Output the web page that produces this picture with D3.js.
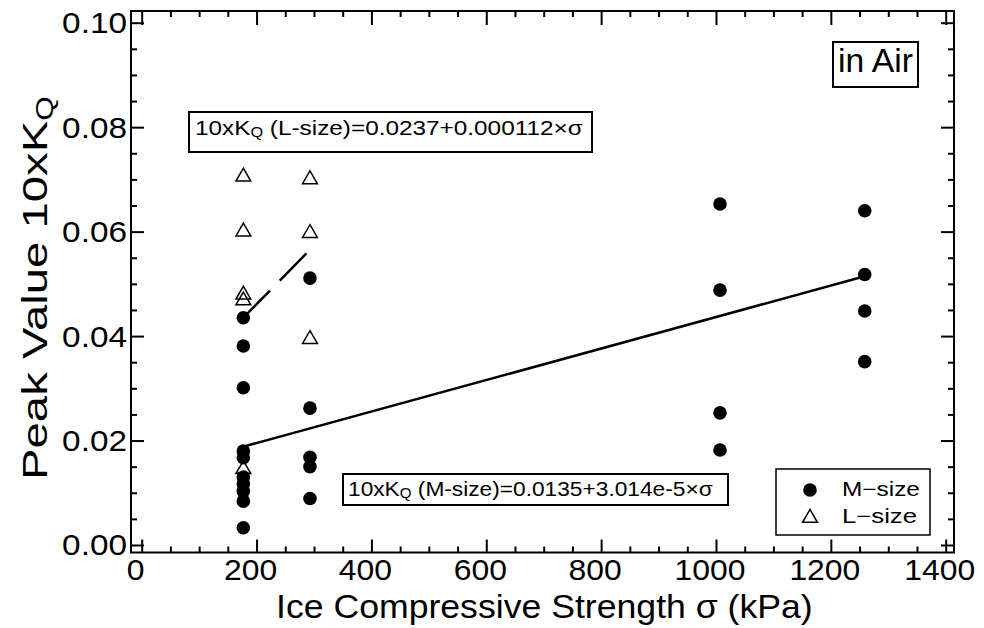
<!DOCTYPE html>
<html>
<head>
<meta charset="utf-8">
<script src="https://cdn.jsdelivr.net/npm/d3@7"></script>
<style>
  body { margin: 0; background: #fff; }
  text { font-family: "Liberation Sans", Arial, Helvetica, sans-serif; fill: #000; }
</style>
</head>
<body>
<div id="chart"></div>
<script>
// M-size specimens: strength (kPa) and peak 10xKQ
var mStrength = [177, 177, 177, 177, 177, 177, 177, 177, 177, 177,
                 293, 293, 293, 293, 293,
                 1007, 1007, 1007, 1007,
                 1259, 1259, 1259, 1259]
var mPeak = [0.0435, 0.0381, 0.0301, 0.0180, 0.0167, 0.0130, 0.0117, 0.0103, 0.0084, 0.0033,
             0.0511, 0.0262, 0.0168, 0.0150, 0.0089,
             0.0653, 0.0488, 0.0253, 0.0182,
             0.0640, 0.0518, 0.0448, 0.0351]

// L-size specimens
var lStrength = [177, 177, 177, 177, 177, 293, 293, 293]
var lPeak = [0.0705, 0.0600, 0.0479, 0.0468, 0.0145, 0.0700, 0.0597, 0.0394]

// regression lines: [intercept, slope] and x range
var mFit = [0.0135, 3.014e-5]
var mFitRange = [177, 1259]
var lFit = [0.0237, 0.000112]
var lFitRange = [177, 293]

var xTicks = [0, 200, 400, 600, 800, 1000, 1200, 1400]
var yTicks = [0, 0.02, 0.04, 0.06, 0.08, 0.10]

var width = 984,
    height = 628

var frame = {left: 131, right: 954, top: 11, bottom: 552.5}

var svg = d3.select("#chart")
  .append("svg")
    .attr("width", width)
    .attr("height", height)

var x = d3.scaleLinear()
  .domain([0, 1400])
  .range([141.7, 945.7])

var y = d3.scaleLinear()
  .domain([0, 0.1])
  .range([545, 22.7])

var xMinor = d3.range(0, 1401, 50).filter(function(d) { return d % 200 != 0 })
var yMinor = d3.range(0, 21).filter(function(i) { return i % 4 != 0 }).map(function(i) { return i * 0.005 })

// stretch a text horizontally to a measured width
function stretch(t, w) {
  var b = t.node().getBBox()
  t.attr("transform", (t.attr("transform") || "") + " scale(" + (w / b.width) + ",1)")
}

function ticks(axis, tx, ty, values, size) {
  svg.append("g")
    .attr("transform", "translate(" + tx + "," + ty + ")")
    .call(axis.tickValues(values).tickSize(-size).tickFormat(""))
    .call(function(g) { g.select(".domain").remove() })
    .selectAll("line")
      .attr("stroke", "#000")
      .attr("stroke-width", 2)
}

ticks(d3.axisBottom(x), 0, frame.bottom, xTicks, 13)
ticks(d3.axisBottom(x), 0, frame.bottom, xMinor, 6)
ticks(d3.axisTop(x), 0, frame.top, xTicks, 14)
ticks(d3.axisTop(x), 0, frame.top, xMinor, 6)
ticks(d3.axisLeft(y), frame.left, 0, yTicks, 13)
ticks(d3.axisLeft(y), frame.left, 0, yMinor, 6)
ticks(d3.axisRight(y), frame.right, 0, yTicks, 13)
ticks(d3.axisRight(y), frame.right, 0, yMinor, 6)

svg.append("rect")
  .attr("x", frame.left)
  .attr("y", frame.top)
  .attr("width", frame.right - frame.left)
  .attr("height", frame.bottom - frame.top)
  .attr("fill", "none")
  .attr("stroke", "#000")
  .attr("stroke-width", 2)

// tick labels
svg.selectAll("xLabels")
  .data(xTicks)
  .enter()
  .append("text")
    .attr("transform", function(d) { return "translate(" + (x(d) - 6) + ",580) scale(1.1,1)" })
    .attr("text-anchor", "middle")
    .style("font-size", "29px")
    .text(d3.format("d"))

svg.selectAll("yLabels")
  .data(yTicks)
  .enter()
  .append("text")
    .attr("transform", function(d) { return "translate(127," + y(d) + ") scale(1.15,1)" })
    .attr("text-anchor", "end")
    .attr("dy", "0.36em")
    .style("font-size", "29px")
    .text(d3.format(".2f"))

// axis titles
var xTitle = svg.append("text")
  .attr("transform", "translate(276,618)")
  .style("font-size", "34px")
  .text("Ice Compressive Strength σ (kPa)")
stretch(xTitle, 537)

var yTitle = svg.append("text")
  .attr("transform", "translate(47,480) rotate(-90)")
  .style("font-size", "36px")
yTitle.append("tspan").text("Peak Value 10xK")
yTitle.append("tspan").attr("dy", 6).style("font-size", "24px").text("Q")
stretch(yTitle, 384)

// regression lines
var line = function(fit) {
  return d3.line()
    .x(function(d) { return x(d) })
    .y(function(d) { return y(fit[0] + fit[1] * d) })
}

svg.append("path")
  .attr("d", line(mFit)(mFitRange))
  .attr("fill", "none")
  .attr("stroke", "#000")
  .attr("stroke-width", 2.5)

svg.append("path")
  .attr("d", line(lFit)(lFitRange))
  .attr("fill", "none")
  .attr("stroke", "#000")
  .attr("stroke-width", 2.5)
  .attr("stroke-dasharray", "38,14")

// points
var tri = d3.symbol().type(d3.symbolTriangle).size(95)

svg.selectAll("lPoints")
  .data(d3.zip(lStrength, lPeak))
  .enter()
  .append("path")
    .attr("d", tri)
    .attr("transform", function(d) { return "translate(" + x(d[0]) + "," + y(d[1]) + ")" })
    .attr("fill", "none")
    .attr("stroke", "#000")
    .attr("stroke-width", 1.5)

svg.selectAll("mPoints")
  .data(d3.zip(mStrength, mPeak))
  .enter()
  .append("circle")
    .attr("cx", function(d) { return x(d[0]) })
    .attr("cy", function(d) { return y(d[1]) })
    .attr("r", 6.8)
    .attr("fill", "#000")

// equation boxes
function eqBox(bx, by, bw, bh, tx, ty, tw, label, rest) {
  svg.append("rect")
    .attr("x", bx).attr("y", by)
    .attr("width", bw).attr("height", bh)
    .attr("fill", "#fff")
    .attr("stroke", "#000")
    .attr("stroke-width", 2)
  var t = svg.append("text")
    .attr("transform", "translate(" + tx + "," + ty + ")")
    .style("font-size", "21px")
  t.append("tspan").text("10xK")
  t.append("tspan").attr("dy", 2).style("font-size", "14px").text("Q")
  t.append("tspan").attr("dy", -2).text(" (" + label + ")=" + rest)
  stretch(t, tw)
}

eqBox(189, 112, 403, 40, 195, 135, 388, "L-size", "0.0237+0.000112×σ")
eqBox(343, 474, 385, 31, 348, 496, 365, "M-size", "0.0135+3.014e-5×σ")

// in Air label
svg.append("rect")
  .attr("x", 833).attr("y", 42)
  .attr("width", 85).attr("height", 45)
  .attr("fill", "none")
  .attr("stroke", "#000")
  .attr("stroke-width", 2)
var air = svg.append("text")
  .attr("transform", "translate(838,72)")
  .style("font-size", "33px")
  .text("in Air")
stretch(air, 75)

// legend
svg.append("rect")
  .attr("x", 776).attr("y", 469)
  .attr("width", 154).attr("height", 66)
  .attr("fill", "#fff")
  .attr("stroke", "#000")
  .attr("stroke-width", 1.5)

svg.append("circle")
  .attr("cx", 810).attr("cy", 490)
  .attr("r", 6.8)
  .attr("fill", "#000")

svg.append("path")
  .attr("d", tri)
  .attr("transform", "translate(810,518)")
  .attr("fill", "none")
  .attr("stroke", "#000")
  .attr("stroke-width", 1.5)

var legM = svg.append("text")
  .attr("transform", "translate(842,496)")
  .style("font-size", "20px")
  .text("M−size")
stretch(legM, 78)

var legL = svg.append("text")
  .attr("transform", "translate(842,523)")
  .style("font-size", "20px")
  .text("L−size")
stretch(legL, 75)
</script>
</body>
</html>
